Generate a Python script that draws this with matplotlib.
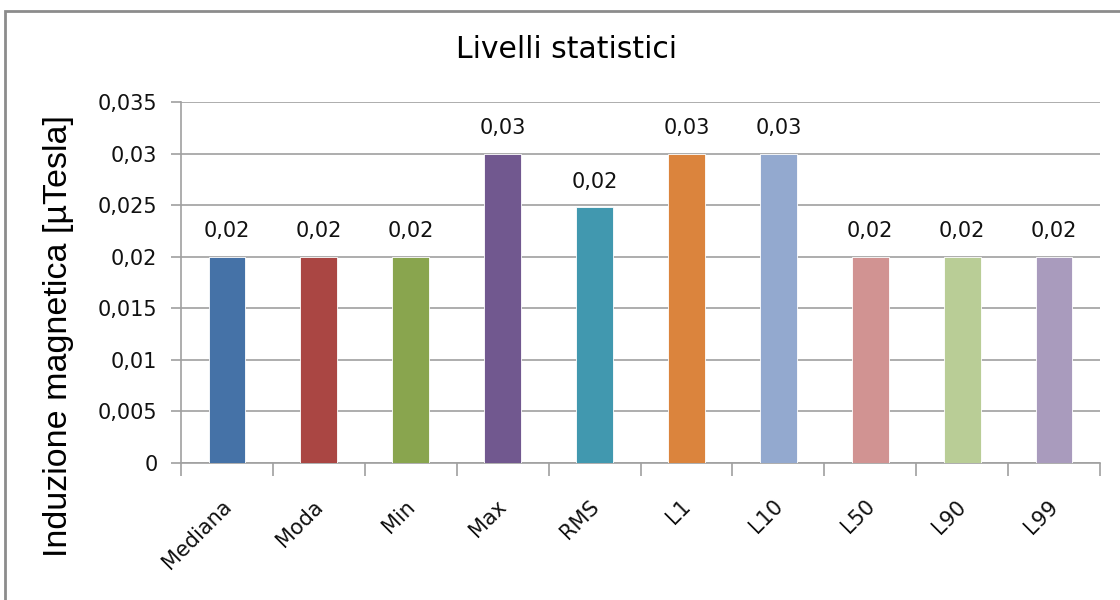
import matplotlib
matplotlib.use("Agg")
import matplotlib.pyplot as plt
import matplotlib.transforms as mtransforms
from matplotlib.patches import Rectangle
import numpy as np

categories = ["Mediana", "Moda", "Min", "Max", "RMS", "L1", "L10", "L50", "L90", "L99"]
values = [0.02, 0.02, 0.02, 0.03, 0.0248, 0.03, 0.03, 0.02, 0.02, 0.02]
colors = ["#4572A7", "#AA4643", "#89A54E", "#71588F", "#4198AF",
          "#DB843D", "#93A9CF", "#D19392", "#B9CD96", "#A99BBD"]
yticks = [0, 0.005, 0.01, 0.015, 0.02, 0.025, 0.03, 0.035]
ytick_labels = ["0", "0,005", "0,01", "0,015", "0,02", "0,025", "0,03", "0,035"]
title = "Livelli statistici"
ylabel = "Induzione magnetica [µTesla]"

plt.rcParams['font.family'] = ['DejaVu Sans']

fig = plt.figure(figsize=(11.2, 6.0), dpi=100)
W, H = 1120, 600
ax = fig.add_axes([181 / W, 1 - 463 / H, (1100 - 181) / W, (463 - 102) / H])

# chart border (top and left visible)
fig.patches.append(Rectangle((5 / W, -0.1), 1.2, (589 / H) + 0.1, transform=fig.transFigure,
                             fill=False, edgecolor="#8c8c8c", linewidth=2.0, zorder=0))

x = np.arange(len(categories))
ax.bar(x, values, width=0.4, color=colors, edgecolor="white", linewidth=0.6, zorder=3)

ax.set_xlim(-0.5, len(categories) - 0.5)
ax.set_ylim(0, 0.035)
ax.set_yticks(yticks)
ax.set_yticklabels(ytick_labels, fontsize=15, color="#111111")
ax.yaxis.grid(True, color="#a0a0a0", linewidth=1.2, zorder=0)
ax.set_axisbelow(True)

ax.set_xticks(x)
ax.set_xticklabels(categories, fontsize=15, rotation=45, ha="right", va="center",
                   rotation_mode="anchor", color="#111111")
ax.set_xticks(np.arange(-0.5, len(categories)), minor=True)
ax.tick_params(axis="x", which="major", length=0, pad=29)
ax.tick_params(axis="x", which="minor", length=9, width=1.2, color="#a0a0a0", direction="out")
ax.tick_params(axis="y", length=7, width=1.2, color="#a0a0a0", direction="out", pad=10)
offset = mtransforms.ScaledTranslation(1 / 100, 0, fig.dpi_scale_trans)
for lab in ax.get_xticklabels():
    lab.set_transform(lab.get_transform() + offset)

for s in ["top", "right"]:
    ax.spines[s].set_visible(False)
for s in ["left", "bottom"]:
    ax.spines[s].set_color("#a0a0a0")
    ax.spines[s].set_linewidth(1.2)

for xi, v in zip(x, values):
    ax.annotate(("%.2f" % v).replace(".", ","), (xi, v), xytext=(0, 11),
                textcoords="offset points", ha="center", va="bottom", fontsize=15,
                color="#111111")

ax.set_ylabel(ylabel, fontsize=24.5, family=["Liberation Sans", "DejaVu Sans"],
              color="#000000")
ax.yaxis.set_label_coords(-0.133, 0.352)
ax.yaxis.label.set_va("center")

fig.text(566 / W, 1 - 50 / H, title, ha="center", va="center", fontsize=21.5, color="#000000")

fig.savefig("out.png", dpi=100, facecolor="white")
